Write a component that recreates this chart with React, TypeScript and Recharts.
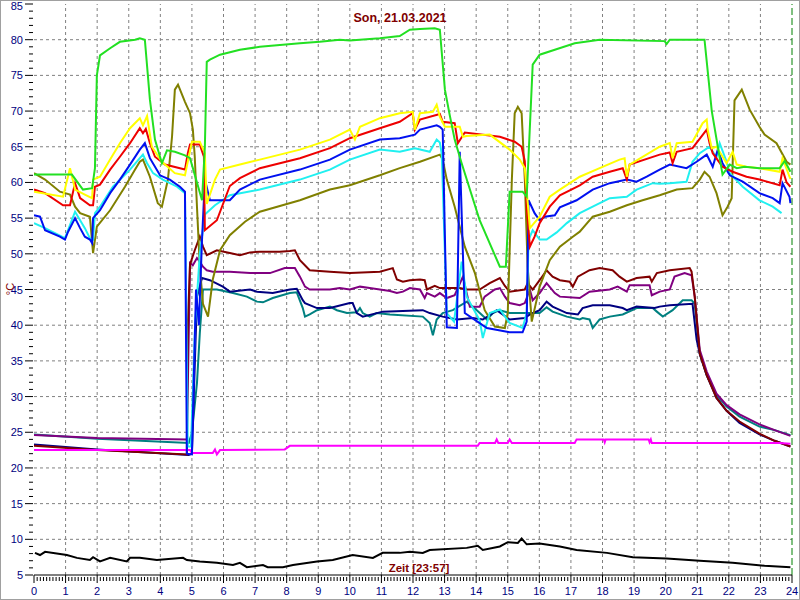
import React from "react";
import { LineChart, Line, XAxis, YAxis, ReferenceLine } from "recharts";

type Pt = [number, number];

// hour of day, °C
const green: Pt[] = [[0,61.1],[1.2,61.1],[1.55,59],[1.84,59.2],[1.93,62],[1.99,75],[2.09,77.8],[2.41,78.8],[2.72,79.7],[3.2,80],[3.35,80.2],[3.51,80],[3.67,71.6],[3.83,66],[4.05,62.7],[4.21,64.5],[4.46,64.3],[4.78,63.8],[4.94,63.4],[5.32,57.5],[5.41,65],[5.47,76.9],[5.57,77.2],[5.89,77.9],[6.52,78.6],[7.15,79],[8.42,79.5],[9.05,79.7],[9.68,80],[10,79.9],[10.95,80.2],[11.58,80.5],[11.9,81.4],[12.22,81.5],[12.69,81.6],[12.85,81.4],[13.01,73],[13.16,69.5],[13.32,66],[13.54,62.7],[14.11,54.7],[14.75,48.2],[14.94,48.2],[15.06,58.7],[15.47,58.7],[15.6,58],[15.79,76.5],[16.01,77.9],[16.49,78.6],[17.12,79.5],[17.91,80],[19.97,79.8],[20.03,79.4],[20.13,80],[21.23,80],[21.46,70],[21.8,61.1],[22.03,62.5],[22.25,62],[22.5,62.2],[22.97,62],[23.61,62],[23.77,63],[23.95,61.5]];
const yellow: Pt[] = [[0,58.7],[0.92,58],[1.14,62],[1.3,59],[1.61,58.3],[1.84,57.8],[1.87,60.4],[2.09,60.8],[2.41,63.2],[2.72,65.5],[3.04,67.6],[3.35,69],[3.45,68],[3.58,69.3],[3.73,65],[4.05,62.9],[4.46,61.3],[4.78,61],[5.0,65.7],[5.25,65.7],[5.41,64.1],[5.47,57],[5.73,60.4],[5.89,61.8],[6.52,62.5],[7.15,63.2],[8.42,64.6],[9.37,66],[10,67.4],[10.16,66],[10.32,67.8],[10.95,69],[11.58,69.7],[11.99,69.9],[12.06,67.4],[12.22,69.7],[12.63,69.9],[12.75,70.9],[12.85,69.2],[13.01,67.8],[13.48,67.8],[13.58,66.4],[13.7,66.5],[14.43,66.7],[15.06,64.6],[15.38,63.2],[15.54,62],[15.7,53.6],[16.01,55.2],[16.33,58],[16.65,59],[17.28,60.8],[17.91,62],[18.54,63.2],[18.7,63.4],[18.77,60.8],[18.86,62.5],[19.81,65],[20.13,65.5],[20.22,63.4],[20.35,65.5],[20.85,65.7],[21.17,68.3],[21.3,68.8],[21.33,67.4],[21.46,64.8],[21.61,65],[21.93,62.7],[22.12,64.3],[22.25,62.5],[22.56,62.2],[22.97,62],[23.61,61.5],[23.7,63.4],[23.92,60.8],[23.95,60.5]];
const red: Pt[] = [[0,59],[0.35,58.5],[0.92,56.8],[1.14,56.8],[1.3,59.9],[1.46,57.8],[1.77,56.8],[1.87,56.8],[1.93,59.4],[2.09,59.7],[2.41,61.8],[2.72,63.6],[3.04,65.5],[3.35,67.6],[3.45,66.9],[3.54,67.5],[3.67,65.5],[3.83,63.6],[4.15,62.5],[4.78,61.8],[4.87,64.1],[4.94,65.3],[5.25,65.3],[5.38,63.6],[5.41,53.3],[5.79,54.7],[6.2,59.5],[6.52,60.6],[7.15,62],[8.42,63.4],[9.37,64.8],[10,66.2],[10.95,67.6],[11.58,68.5],[11.99,69.7],[12.06,67.4],[12.22,68.8],[12.85,69.6],[12.94,68.5],[13.32,68.3],[13.42,65.5],[13.64,67],[14.75,66.4],[15.22,65.7],[15.44,65],[15.54,63],[15.6,56.6],[15.7,51],[15.85,52.4],[16.01,54.3],[16.33,56.6],[16.65,58.2],[17.28,59.6],[17.69,60.8],[18.23,61.5],[18.64,62],[18.77,60.4],[18.86,62.5],[19.81,63.9],[20.13,64.2],[20.22,62.7],[20.35,64.3],[20.85,64.8],[21.3,67.4],[21.39,65.5],[21.49,64.1],[21.8,62.2],[22.12,61.5],[22.56,60.8],[22.97,60.4],[23.61,59.6],[23.7,61.8],[23.83,60],[23.95,59.4]];
const blue: Pt[] = [[0,55.4],[0.19,55.2],[0.35,53.3],[0.82,52.4],[0.98,52],[1.08,53.1],[1.3,55],[1.46,53.6],[1.61,52.4],[1.77,52],[1.84,51.5],[1.87,55],[2.09,56.1],[2.41,58.5],[2.72,60.4],[3.04,62.5],[3.35,64.6],[3.51,65.5],[3.67,63.4],[3.99,61],[4.3,60.4],[4.62,59.4],[4.78,58.7],[4.84,22],[5.0,21.9],[5.13,45],[5.22,40],[5.32,52],[5.41,60.4],[5.57,57.5],[6.2,57.5],[6.52,59],[7.15,60.4],[8.42,61.8],[9.37,63.2],[10,64.6],[10.95,66],[11.58,66.2],[12.06,66.7],[12.22,67.4],[12.75,68],[12.85,67.8],[12.94,67.4],[13.07,39.7],[13.39,39.6],[13.48,64.3],[13.58,50],[13.64,41.7],[14.11,40.3],[14.34,39.6],[15.06,39],[15.47,39],[15.6,40.5],[15.66,57.5],[15.85,55.7],[16.01,54.7],[16.17,55.2],[16.49,55.4],[16.65,56.5],[17.18,57.5],[17.69,59],[18.23,59.9],[18.77,60.4],[19.08,60.1],[19.4,60.8],[19.81,61.8],[20.13,62.5],[20.66,62],[20.98,62.9],[21.3,63.9],[21.49,62.2],[21.65,64.6],[21.8,62.7],[22.03,61],[22.44,60.1],[22.97,58.5],[23.39,57.8],[23.61,57.1],[23.7,59.9],[23.92,58],[23.95,57.1]];
const cyan: Pt[] = [[0,54.3],[0.35,53.6],[0.98,52.2],[1.3,55.9],[1.61,53.6],[1.77,52.2],[1.87,52],[1.93,55.7],[2.09,56.6],[2.5,59.4],[3.04,61.8],[3.35,63.4],[3.45,63.9],[3.58,62.7],[3.77,61.3],[4.08,60.4],[4.53,59.4],[4.78,58.5],[4.87,23],[4.97,23],[5.1,40],[5.25,50],[5.41,55.5],[5.73,56.8],[6.2,58.2],[7.15,59],[8.42,60.4],[9.37,61.8],[10,63.2],[10.95,64.6],[11.58,64.3],[12.06,64.8],[12.53,64.3],[12.75,66],[12.85,65.6],[12.91,64],[13.07,41.7],[13.3,40.5],[13.54,48.9],[13.7,44],[14.11,40.7],[14.21,38.2],[14.43,41.7],[14.75,42.2],[15.06,40.3],[15.47,39.6],[15.6,41.7],[15.66,52],[15.79,53.3],[16.01,52],[16.23,52],[16.55,53],[16.87,54.3],[17.28,55.7],[17.69,56.6],[18.23,57.8],[18.77,58],[19.08,59],[19.59,59.9],[19.81,59.8],[20.13,59.9],[20.66,60.1],[20.85,62.9],[21.08,64.1],[21.39,65],[21.61,63.5],[21.71,65.5],[21.93,62.9],[22.03,61.3],[22.44,59.4],[22.97,57.5],[23.39,56.6],[23.67,55.7]];
const olive: Pt[] = [[0,61.3],[0.35,60.4],[0.82,58.7],[1.14,58.3],[1.3,56.6],[1.46,55.7],[1.77,55.2],[1.87,50.1],[1.99,53.8],[2.41,56.1],[2.88,59.4],[3.2,61.8],[3.35,62.9],[3.45,63.2],[3.67,60.8],[3.92,57.1],[4.05,56.6],[4.24,60.4],[4.37,66.4],[4.46,73],[4.56,73.7],[4.78,71.3],[4.94,69.7],[5.03,67.4],[5.09,63.6],[5.16,56.6],[5.25,48.2],[5.35,43],[5.51,41.2],[5.66,46.4],[5.89,50.5],[6.2,52.6],[6.68,54.5],[7.15,55.9],[8.42,57.5],[9.37,59],[10,59.6],[10.95,61],[11.58,62],[12.22,62.9],[12.85,63.9],[12.94,63.2],[13.07,60.4],[13.32,56.6],[13.64,51],[13.96,47.3],[14.27,42.1],[14.59,39.8],[14.91,39.6],[15.0,41.7],[15.13,60.4],[15.22,69.7],[15.32,70.6],[15.44,69.7],[15.54,60.4],[15.63,48.2],[15.76,40.5],[16.01,45.4],[16.33,49.1],[16.65,51],[17.06,52.4],[17.28,53.1],[17.69,55.2],[18.23,55.9],[18.77,56.8],[19.27,57.5],[19.81,58.2],[20.35,59],[20.85,59.2],[21.08,60.4],[21.23,61.5],[21.39,60.8],[21.61,58.5],[21.8,55.4],[21.96,56.6],[22.09,57.8],[22.18,71.5],[22.41,73],[22.66,70.2],[22.97,67.8],[23.13,66.7],[23.51,65.5],[23.83,62.9],[23.95,62.5]];
const maroon: Pt[] = [[0,23.1],[2,22.5],[4.84,21.9],[4.87,40],[4.94,48.5],[5.09,50.5],[5.25,52.4],[5.35,51],[5.47,49.8],[5.79,50.5],[6.2,50.1],[6.52,49.8],[6.84,50.2],[7.15,50.3],[7.78,50.3],[8.1,50.4],[8.26,50.5],[8.42,49.1],[8.73,47.7],[9.37,47.5],[10,47.3],[10.95,47.5],[11.36,48],[11.49,46.4],[11.68,46.1],[11.9,46.3],[12.22,46.4],[12.37,46.3],[12.44,45],[12.69,45.5],[12.85,45.2],[13.48,45.2],[13.7,45],[14.11,45],[14.43,45.9],[14.75,46.6],[14.91,45.5],[15.06,44.7],[15.54,45],[15.63,45.9],[15.79,45],[16.01,46.3],[16.23,47.7],[16.42,46.8],[16.65,46.3],[16.96,46.1],[17.06,45.4],[17.22,46.8],[17.59,47.7],[17.91,48],[18.32,47.7],[18.54,46.8],[18.77,46.1],[19.08,46.6],[19.49,46.8],[19.56,46.1],[19.72,47.3],[20.13,47.7],[20.76,48],[20.82,47.5],[20.92,44],[21.08,36],[21.3,33],[21.61,29.8],[21.93,28],[22.34,26.5],[22.97,24.8],[23.45,23.8],[23.95,23]];
const purple: Pt[] = [[0,24.6],[2,24.2],[4.84,24],[4.94,48.7],[5.03,48.4],[5.16,49.4],[5.25,48.9],[5.35,48.2],[5.47,47.7],[5.66,47.5],[6.2,47.5],[6.84,47.3],[7.47,47.3],[7.94,48],[8.26,48],[8.42,46.8],[8.58,45.4],[8.73,45],[9.37,45],[9.68,45.2],[10,45],[10.32,45.4],[10.63,45.2],[10.95,45],[11.27,44.8],[11.49,44.5],[11.68,44.7],[11.9,45.2],[12.22,45],[12.37,43.8],[12.44,44.5],[12.69,44],[12.85,44.5],[13.07,43.8],[13.32,44.2],[13.58,46.8],[13.8,42.6],[14.11,42.6],[14.27,44],[14.59,45],[14.75,45.2],[14.91,44],[15.06,43.1],[15.38,42.8],[15.54,43.1],[15.7,45],[15.79,43.5],[16.01,44.5],[16.23,45.9],[16.49,44.5],[16.65,44],[17.28,43.8],[17.59,44.7],[18.23,45],[18.48,45.4],[18.77,44.7],[18.86,45.6],[19.49,45.6],[19.56,44.2],[19.81,44.7],[20.13,45],[20.28,46.8],[20.6,47.3],[20.82,47],[20.92,44],[21.08,36.5],[21.3,33.5],[21.61,30.4],[21.93,28.8],[22.34,27.5],[22.97,26.1],[23.45,25.3],[23.95,24.5]];
const navy: Pt[] = [[0,23.3],[2,22.6],[4.9,21.8],[5.0,22],[5.16,44],[5.32,46.6],[5.57,46.3],[5.98,45.4],[6.2,44.7],[6.84,45],[7.06,44.7],[7.56,44.5],[8.1,45],[8.32,45.1],[8.51,43.5],[8.58,43.1],[8.96,42.4],[9.37,42.4],[10,43.1],[10.09,43.1],[10.22,41.7],[10.41,41.2],[11.04,41.9],[12.31,42.1],[12.53,41.7],[12.94,41.2],[13.39,40.8],[13.89,41],[14.21,40.8],[14.43,41.4],[14.65,42.1],[15.06,40.8],[15.54,41],[15.7,41.5],[16.01,42.1],[16.23,43.3],[16.42,42.6],[16.87,41.7],[17.22,41.5],[17.37,42.4],[17.69,42.8],[18.23,42.8],[18.64,42.4],[18.77,42.1],[19.08,42.6],[19.65,42.4],[19.81,42.6],[20.13,42.8],[20.85,43],[20.98,38],[21.08,36],[21.3,33],[21.61,29.8],[21.93,28],[22.34,26.3],[22.97,24.7],[23.45,23.8],[23.95,23]];
const teal: Pt[] = [[0,24.7],[2,24.1],[4.9,23.5],[5.0,24.9],[5.16,31.9],[5.25,38.9],[5.35,45],[5.79,45],[6.3,44.5],[6.74,44],[7.06,43.3],[7.25,43.2],[7.56,43.8],[8.1,44.5],[8.32,44.6],[8.51,42.4],[8.58,41.2],[8.73,41.5],[8.96,42.1],[9.37,42.6],[9.59,42.1],[9.91,41.7],[10.22,41.8],[10.32,42.4],[10.41,41.7],[10.63,41.2],[10.85,41.7],[11.27,41.5],[12.31,41.2],[12.53,40.3],[12.63,38.6],[12.75,40.8],[12.94,41.7],[13.26,42.1],[13.7,43.3],[14.02,42.1],[14.34,40.8],[14.53,41.7],[14.75,42.1],[15.06,41.7],[15.6,41.7],[16.01,41.7],[16.23,42.5],[16.42,41.9],[16.87,41.2],[17.28,40.8],[17.37,41],[17.59,40.8],[17.69,39.6],[17.91,40.8],[18.23,41.2],[18.64,41.5],[19.08,42.4],[19.59,42.4],[19.72,41.9],[19.91,41.2],[20.22,42.1],[20.54,43.5],[20.82,43.5],[20.92,43],[21.08,36],[21.3,33],[21.61,30.2],[21.93,28.6],[22.34,27.2],[22.97,25.8],[23.45,25.3],[23.95,24.6]];
const magenta: Pt[] = [[0,22.5],[4.94,22.5],[5.0,22.1],[5.66,22.1],[5.73,22.6],[5.79,21.9],[5.89,22.5],[7.94,22.6],[8.1,23.1],[14.05,23.1],[14.11,23.5],[14.6,23.5],[14.65,24],[14.7,23.5],[15.0,23.5],[15.06,24],[15.13,23.5],[17.12,23.5],[17.18,24],[18.04,24],[18.07,23.6],[18.1,24],[19.46,24],[19.49,23.6],[19.53,24],[19.56,23.5],[23.6,23.5],[23.95,23.4]];
const black: Pt[] = [[0.03,8.1],[0.19,7.8],[0.35,8.25],[1.04,7.8],[1.36,7.4],[1.77,7.1],[1.87,7.5],[2.09,6.9],[2.41,7.4],[2.94,6.9],[3.04,7.4],[3.35,7.4],[3.89,7.1],[4.72,7.4],[4.84,7.1],[5.25,6.9],[5.79,6.7],[6.3,6.4],[6.52,6.7],[6.74,6.1],[7.25,6.4],[7.4,6.1],[7.88,6.1],[8.2,6.4],[8.96,6.9],[9.46,7.1],[10.09,7.8],[10.73,7.4],[11.04,8.1],[11.58,8.1],[11.9,8.25],[12.31,8.1],[12.53,8.5],[13.7,8.8],[14.05,9.1],[14.21,8.5],[14.75,9],[15.0,9.6],[15.32,9.5],[15.44,10.1],[15.6,9.3],[16.01,9.4],[16.65,9],[17.18,8.5],[18.14,8.1],[18.96,7.5],[20.03,7.3],[21.08,7],[22.12,6.7],[23.13,6.3],[23.95,6.1]];

const series = [
  { key: "teal", color: "#008080", pts: teal },
  { key: "navy", color: "#000080", pts: navy },
  { key: "purple", color: "#800080", pts: purple },
  { key: "maroon", color: "#800000", pts: maroon },
  { key: "magenta", color: "#ff00ff", pts: magenta },
  { key: "black", color: "#000000", pts: black },
  { key: "olive", color: "#808000", pts: olive },
  { key: "cyan", color: "#20f0f0", pts: cyan },
  { key: "blue", color: "#0010f0", pts: blue },
  { key: "red", color: "#ee0000", pts: red },
  { key: "yellow", color: "#ffff00", pts: yellow },
  { key: "green", color: "#22e022", pts: green },
];

const hourTicks = Array.from({ length: 241 }, (_, i) => i / 10);
const tempTicks = Array.from({ length: 81 }, (_, i) => 5 + i);
const hourGrid = Array.from({ length: 23 }, (_, i) => i + 1);
const tempGrid = [10, 15, 20, 25, 30, 35, 40, 45, 50, 55, 60, 65, 70, 75, 80];

const FONT = "Arial, 'Liberation Sans', sans-serif";

function YTick({ x, y, payload }: any) {
  const v = payload.value;
  const major = v % 5 === 0;
  return (
    <g>
      <line x1={x - (major ? 9 : 5)} x2={x - 1} y1={y} y2={y} stroke="#000" />
      {major && (
        <text x={x - 11} y={Math.max(y + 4, 10)} textAnchor="end" fontSize={11} fill="#000080" fontFamily={FONT}>
          {v}
        </text>
      )}
    </g>
  );
}

function XTick({ x, y, payload }: any) {
  const v = payload.value;
  const major = Math.abs(v - Math.round(v)) < 1e-6;
  return (
    <g>
      <line x1={x} x2={x} y1={y + (major ? 0 : 2)} y2={y + (major ? 8 : 6)} stroke="#000" />
      {major && (
        <text x={x} y={y + 20} textAnchor="middle" fontSize={11} fill="#000080" fontFamily={FONT}>
          {Math.round(v)}
        </text>
      )}
    </g>
  );
}

export default function App() {
  return (
    <div style={{ position: "absolute", left: 0, top: 0, width: 800, height: 600, background: "#fff" }}>
      <LineChart width={800} height={600} margin={{ top: 4, right: 8, bottom: 0, left: 0 }}>
        <XAxis
          dataKey="h"
          type="number"
          domain={[0, 24]}
          ticks={hourTicks}
          interval={0}
          height={25}
          tickSize={0}
          tickMargin={0}
          tickLine={false}
          axisLine={{ stroke: "#000" }}
          tick={<XTick />}
          allowDataOverflow
        />
        <YAxis
          dataKey="v"
          type="number"
          domain={[5, 85]}
          ticks={tempTicks}
          interval={0}
          width={34}
          tickSize={0}
          tickMargin={0}
          tickLine={false}
          axisLine={false}
          tick={<YTick />}
          allowDataOverflow
        />
        {tempGrid.map((v) => (
          <ReferenceLine key={"gy" + v} y={v} stroke="#808080" strokeDasharray="3 3" />
        ))}
        {hourGrid.map((h) => (
          <ReferenceLine key={"gx" + h} x={h} stroke="#808080" strokeDasharray="3 3" />
        ))}
        <ReferenceLine x={24} stroke="#008000" strokeDasharray="7 3" />
        {series.map((s) => (
          <Line
            key={s.key}
            data={s.pts.map(([h, v]) => ({ h, v }))}
            dataKey="v"
            type="linear"
            stroke={s.color}
            strokeWidth={2}
            dot={false}
            isAnimationActive={false}
          />
        ))}
      </LineChart>
      <svg width={800} height={600} style={{ position: "absolute", left: 0, top: 0, pointerEvents: "none" }}>
        <rect x={0.5} y={0.5} width={799} height={599} fill="none" stroke="#a0a0a0" />
        <text x={400} y={22} textAnchor="middle" fontSize={12.5} fontWeight="bold" fill="#800000" fontFamily={FONT}>
          Son, 21.03.2021
        </text>
        <text x={419} y={572} textAnchor="middle" fontSize={11.5} fontWeight="bold" fill="#800000" fontFamily={FONT}>
          Zeit [23:57]
        </text>
        <text x={0} y={0} transform="translate(14,289) rotate(-90)" textAnchor="middle" fontSize={11} fill="#800000" fontFamily={FONT}>
          °C
        </text>
      </svg>
    </div>
  );
}
